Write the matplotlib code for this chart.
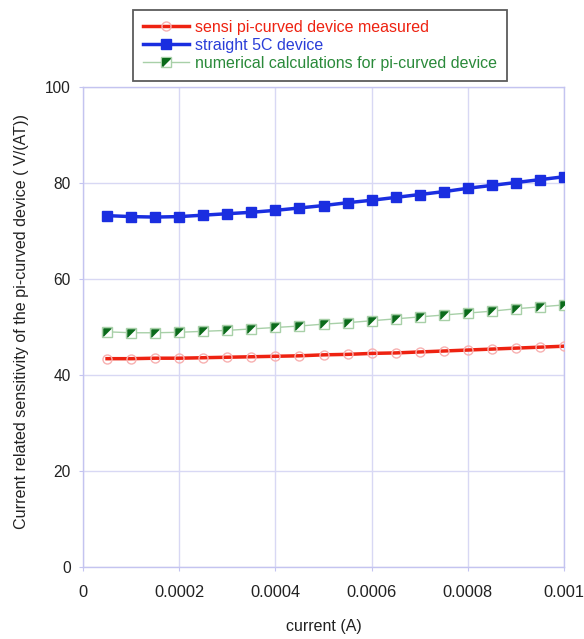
import matplotlib
matplotlib.use("Agg")
import matplotlib.pyplot as plt
import matplotlib.legend_handler as lh
from matplotlib.lines import Line2D

plt.rcParams['font.family'] = ['Liberation Sans', 'DejaVu Sans']

current = [0.00005, 0.0001, 0.00015, 0.0002, 0.00025, 0.0003, 0.00035, 0.0004, 0.00045, 0.0005,
           0.00055, 0.0006, 0.00065, 0.0007, 0.00075, 0.0008, 0.00085, 0.0009, 0.00095, 0.001]
straight_5c = [73.2, 73.0, 72.9, 73.0, 73.3, 73.6, 73.9, 74.3, 74.8, 75.3,
               75.9, 76.4, 77.0, 77.6, 78.2, 78.9, 79.5, 80.1, 80.7, 81.3]
numerical = [49.0, 48.8, 48.8, 48.9, 49.1, 49.3, 49.6, 49.9, 50.2, 50.6,
             50.9, 51.3, 51.7, 52.1, 52.5, 52.9, 53.3, 53.8, 54.2, 54.6]
measured = [43.4, 43.4, 43.5, 43.5, 43.6, 43.7, 43.8, 43.9, 44.0, 44.2,
            44.3, 44.5, 44.6, 44.8, 45.0, 45.2, 45.4, 45.6, 45.8, 46.0]

xticks = [0, 0.0002, 0.0004, 0.0006, 0.0008, 0.001]
xticklabels = ['0', '0.0002', '0.0004', '0.0006', '0.0008', '0.001']
yticks = [0, 20, 40, 60, 80, 100]

fig = plt.figure(figsize=(5.84, 6.39), dpi=100)
ax = fig.add_axes([83/584, (639-567)/639, (564-83)/584, (567-87)/639])

grid_c = '#d8d8f4'
spine_c = '#c4c4f0'

red = '#ee2211'
blue = '#1a2ee0'
green_dark = '#0b6b1b'
green_light = '#a8d0a8'
tri = [(-1, -1), (-1, 1), (1, 1), (-1, -1)]

l_red, = ax.plot(current, measured, color=red, lw=2.5, marker='o', ms=6.5,
                 mfc='none', mec='#f7b0b0', mew=1.0, zorder=3)
l_blue, = ax.plot(current, straight_5c, color=blue, lw=2.5, marker='s', ms=6.5,
                  mfc=blue, mec=blue, zorder=4)
ax.plot(current, numerical, color=green_light, lw=1.0, marker='s', ms=6.5,
        mfc='white', mec=green_light, mew=1.0, zorder=3)
ax.plot(current, numerical, ls='none', marker=tri, ms=5.5, mfc=green_dark, mec=green_dark,
        mew=0.5, zorder=3.5)

leg_green_sq = Line2D([], [], color=green_light, lw=1.0, marker='s', ms=6.5,
                      mfc='white', mec=green_light, mew=1.0)
leg_green_tri = Line2D([], [], ls='none', marker=tri, ms=5.5, mfc=green_dark, mec=green_dark)

leg = fig.legend([l_red, l_blue, (leg_green_sq, leg_green_tri)],
                 ['sensi pi-curved device measured', 'straight 5C device',
                  'numerical calculations for pi-curved device'],
                 loc='upper left', bbox_to_anchor=(133/584, 1 - 10/639),
                 fontsize=11.5, frameon=True, fancybox=False, handlelength=2.9,
                 handletextpad=0.4, borderpad=0.6, labelspacing=0.2,
                 borderaxespad=0, handler_map={tuple: lh.HandlerTuple(ndivide=1)})
leg.get_frame().set_edgecolor('#333333')
leg.get_frame().set_linewidth(1.3)
for t, c in zip(leg.get_texts(), [red, '#2a3ed8', '#2a8a3a']):
    t.set_color(c)

ax.set_xlim(0, 0.001)
ax.set_ylim(0, 100)
ax.set_xticks(xticks)
ax.set_xticklabels(xticklabels)
ax.set_yticks(yticks)
ax.grid(True, color=grid_c, lw=1.0)
ax.set_axisbelow(True)
for s in ax.spines.values():
    s.set_color(spine_c)
    s.set_linewidth(1.0)
ax.tick_params(axis='both', length=3, color=spine_c, labelcolor='#222222')
ax.tick_params(axis='x', pad=10, labelsize=11.8)
ax.tick_params(axis='y', pad=6, labelsize=11.2)

ax.set_xlabel('current (A)', fontsize=11.5, color='#222222', labelpad=14)
ax.set_ylabel('Current related sensitivity of the pi-curved device ( V/(AT))',
              fontsize=11.6, color='#222222')
ax.yaxis.set_label_coords(-0.113, 0.511)

fig.savefig('out.png', dpi=100, facecolor='white')
